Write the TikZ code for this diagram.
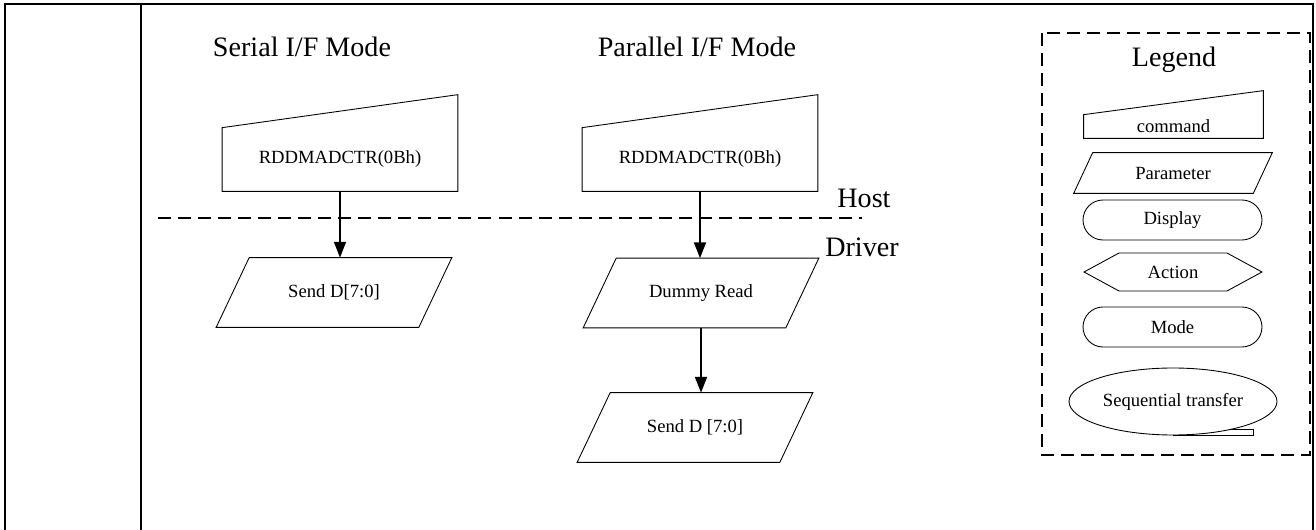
\documentclass[tikz,border=0pt]{standalone}
\usepackage{fontspec}
\setmainfont{Liberation Serif}
\usetikzlibrary{arrows.meta,shapes.geometric,shapes.symbols}

\begin{document}
\begin{tikzpicture}[
  x=0.02cm, y=-0.02cm,
  every node/.style={font=\fontsize{10.6}{13}\selectfont},
  head/.style={font=\fontsize{16}{19}\selectfont},
  cmd/.style={align=center, minimum width=4.7cm, minimum height=1.26cm, inner sep=1pt},
  param/.style={align=center, minimum width=4.04cm, minimum height=1.38cm, inner sep=1pt},
  thin/.style={line width=0.5pt},
  pill/.style={draw, thin, rounded corners=0.4cm, minimum width=3.58cm, minimum height=0.8cm},
  act/.style={draw, thin, signal, signal to=west and east, signal pointer angle=57, minimum width=3.56cm, minimum height=0.76cm},
  seq/.style={draw, thin, ellipse, minimum width=4.16cm, minimum height=1.34cm, inner sep=0pt},
  frame/.style={line width=1.3pt},
  sep/.style={line width=1.3pt, dash pattern=on 7.4pt off 4pt},
  arr/.style={line width=1pt, -{Triangle[length=9pt,width=6.8pt]}},
]
\useasboundingbox (0,0) rectangle (1316,530);

% outer frame
\draw[frame] (5,530) -- (5,4) -- (1313,4) -- (1313,530);
\draw[frame] (141,4) -- (141,530);

\node[head] (serhead) at (302,47) {Serial I/F Mode};
\node[head] (parhead) at (697,47) {Parallel I/F Mode};

% commands
\node[cmd] (sercmd) at (340,159.5) {RDDMADCTR(0Bh)};
\draw[thin] (sercmd.south west) -- (sercmd.north west) -- ([yshift=0.66cm]sercmd.north east) -- (sercmd.south east) -- cycle;
\node[cmd] (parcmd) at (700,159.5) {RDDMADCTR(0Bh)};
\draw[thin] (parcmd.south west) -- (parcmd.north west) -- ([yshift=0.66cm]parcmd.north east) -- (parcmd.south east) -- cycle;

% parameters
\node[param] (sersend) at (334,292.5) {Send D[7:0]};
\draw[thin] ([xshift=0.33cm]sersend.north west) -- ([xshift=0.33cm]sersend.north east) -- ([xshift=-0.33cm]sersend.south east) -- ([xshift=-0.33cm]sersend.south west) -- cycle;
\node[param] (dummy) at (701,293) {Dummy Read};
\draw[thin] ([xshift=0.33cm]dummy.north west) -- ([xshift=0.33cm]dummy.north east) -- ([xshift=-0.33cm]dummy.south east) -- ([xshift=-0.33cm]dummy.south west) -- cycle;
\node[param] (parsend) at (695,427.5) {Send D [7:0]};
\draw[thin] ([xshift=0.33cm]parsend.north west) -- ([xshift=0.33cm]parsend.north east) -- ([xshift=-0.33cm]parsend.south east) -- ([xshift=-0.33cm]parsend.south west) -- cycle;

% host / driver split
\coordinate (sepl) at (158,218);
\coordinate (sepr) at (862,218);
\draw[sep] (sepl) -- (sepr);
\node[head] (host) at (864,198) {Host};
\node[head] (driver) at (862,247) {Driver};

\draw[arr] (sercmd.south) -- (sercmd.south |- sersend.north);
\draw[arr] (parcmd.south) -- (parcmd.south |- dummy.north);
\draw[arr] (dummy.south) -- (dummy.south |- parsend.north);

% legend
\draw[sep] (1042,33) rectangle (1310,455);
\node[head] (legtitle) at (1174,60) {Legend};
\node[cmd, minimum width=3.58cm, minimum height=0.46cm] (legcmd) at (1173.5,126.5) {command};
\draw[thin] (legcmd.south west) -- (legcmd.north west) -- ([yshift=0.48cm]legcmd.north east) -- (legcmd.south east) -- cycle;
\node[param, minimum width=3.58cm, minimum height=0.8cm] (legpar) at (1173,173) {Parameter};
\draw[thin] ([xshift=0.19cm]legpar.north west) -- ([xshift=0.19cm]legpar.north east) -- ([xshift=-0.19cm]legpar.south east) -- ([xshift=-0.19cm]legpar.south west) -- cycle;
\node[pill] (legdisp) at (1172.5,220) {Display};
\node[act] (legact) at (1173,272) {Action};
\node[pill] (legmode) at (1172.5,327) {Mode};
\node[seq] (legseq) at (1173,401.5) {Sequential transfer};
\draw[thin] (legseq.south) -- ([xshift=1.6cm]legseq.south) -- ([xshift=1.6cm,yshift=0.12cm]legseq.south) -- ([xshift=1.15cm,yshift=0.12cm]legseq.south);

\end{tikzpicture}
\end{document}
